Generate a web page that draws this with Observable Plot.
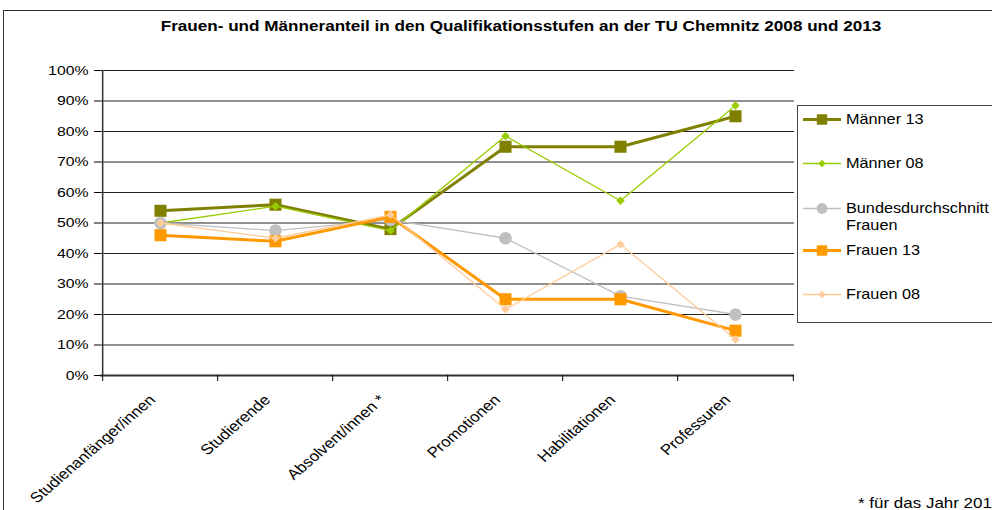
<!DOCTYPE html>
<html><head><meta charset="utf-8">
<script src="https://cdn.jsdelivr.net/npm/d3@7"></script>
<script src="https://cdn.jsdelivr.net/npm/@observablehq/plot@0.6"></script>
<style>
html,body{margin:0;padding:0;overflow:hidden;background:#fff;}
#wrap{position:relative;width:992px;height:510px;overflow:hidden;font-family:"Liberation Sans",Arial,sans-serif;color:#000;}
#frame{position:absolute;left:3px;top:10px;width:1100px;height:600px;border:1px solid #333;box-sizing:border-box;}
#title{position:absolute;left:0;top:18px;width:1042px;text-align:center;font-weight:bold;font-size:14.5px;transform:scaleX(1.18);transform-origin:521px 0;white-space:nowrap;}
#chart{position:absolute;left:0;top:0;}
#legend{position:absolute;left:797px;top:105px;width:300px;height:218px;border:1px solid #444;box-sizing:border-box;background:#fff;}
.item{position:absolute;left:5px;font-size:14.5px;line-height:17px;white-space:nowrap;}
.item svg{position:absolute;left:0;top:0;}
.item span{position:absolute;left:43px;top:0;transform:scaleX(1.12);transform-origin:0 0;}
#note{position:absolute;left:858px;top:495px;font-size:14.5px;white-space:nowrap;transform:scaleX(1.17);transform-origin:0 0;}
</style></head>
<body>
<div id="wrap">
  <div id="frame"></div>
  <div id="chart"></div>
  <div id="title">Frauen- und Männeranteil in den Qualifikationsstufen an der TU Chemnitz 2008 und 2013</div>
  <div id="legend"></div>
  <div id="note">* für das Jahr 2012</div>
</div>
<script>
const categories = ["Studienanfänger/innen","Studierende","Absolvent/innen *","Promotionen","Habilitationen","Professuren"];
const maenner13 = [54, 56, 48, 75, 75, 85];
const maenner08 = [50, 55.5, 47.5, 78.5, 57.3, 88.5];
const bundesFrauen = [50, 47.5, 51, 45, 26, 20];
const frauen13 = [46, 44, 52, 25, 25, 14.7];
const frauen08 = [50, 45, 52.7, 21.7, 43, 11.8];
const yTicks = [0,10,20,30,40,50,60,70,80,90,100];
const seriesNames = ["Männer 13","Männer 08","Bundesdurchschnitt Frauen","Frauen 13","Frauen 08"];

const styles = {
  "Männer 13": {color:"#808000", width:3, symbol:"square", r:6.8},
  "Männer 08": {color:"#99CC00", width:1.3, symbol:"diamond2", r:3.8},
  "Bundesdurchschnitt Frauen": {color:"#C0C0C0", width:1.3, symbol:"circle", r:6.3},
  "Frauen 13": {color:"#FF9900", width:3, symbol:"square", r:6.8},
  "Frauen 08": {color:"#FFCC99", width:1.3, symbol:"diamond2", r:3.8}
};
const seriesValues = [maenner13, maenner08, bundesFrauen, frauen13, frauen08];
const series = seriesNames.map((name,k)=>({name, rows: categories.map((c,i)=>({cat:c, v:seriesValues[k][i], key:name}))}));

const W=992, H=510, ML=100, MR=198, MT=70, MB=135;
const step = (W-ML-MR)/categories.length;

const marks = [
  Plot.ruleY(yTicks.filter(d=>d>0), {stroke:"#222", strokeWidth:1}),
  Plot.ruleX([categories[0]], {dx:-step/2, stroke:"#333", strokeWidth:1.5}),
  Plot.ruleY([0], {stroke:"#333", strokeWidth:2}),
  Plot.axisY({ticks:yTicks, tickSize:6, tickPadding:6, fontSize:13.5, tickFormat:d=>d+"%", label:null}),
  Plot.axisX({tickSize:6, tickFormat:()=>"", dx:-step/2, label:null}),
  Plot.axisX({ticks:[categories[categories.length-1]], tickSize:6, tickFormat:()=>"", dx:step/2, label:null}),
  Plot.axisX({tickSize:0, tickRotate:-45, tickPadding:22, dx:-8, fontSize:14.5, label:null})
];
for (const s of series) {
  const st = styles[s.name];
  marks.push(Plot.line(s.rows, {x:"cat", y:"v", stroke:st.color, strokeWidth:st.width}));
  marks.push(Plot.dot(s.rows, {x:"cat", y:"v", symbol:()=>st.symbol, r:st.r, fill:st.color, stroke:"none"}));
}

const chart = Plot.plot({
  width:W, height:H, marginLeft:ML, marginRight:MR, marginTop:MT, marginBottom:MB,
  style:{fontFamily:"Liberation Sans, Arial, sans-serif", fontSize:"14px", background:"transparent", overflow:"visible", color:"#000"},
  x:{type:"point", domain:categories, padding:0.5, label:null},
  y:{domain:[0,100], label:null},
  symbol:{type:"identity"},
  marks
});
document.getElementById("chart").appendChild(chart);

// horizontally stretch axis labels like the reference's widened text
d3.select(chart).selectAll("g[aria-label='x-axis tick label'] text").each(function(){
  const t = this.getAttribute("transform") || "";
  if (t.includes("rotate(")) this.setAttribute("transform", t.replace("rotate(", "scale(1.16,1) rotate("));
});
d3.select(chart).selectAll("g[aria-label='y-axis tick label'] text").each(function(){
  const t = this.getAttribute("transform") || "";
  this.setAttribute("transform", t + " scale(1.17,1)");
});

// legend
const legend = document.getElementById("legend");
const legendTops = [5, 49, 94, 136, 180];
const labels = ["Männer 13","Männer 08","Bundesdurchschnitt<br>Frauen","Frauen 13","Frauen 08"];
seriesNames.forEach((name,k)=>{
  const st = styles[name];
  const div = document.createElement("div");
  div.className="item";
  div.style.top = legendTops[k]+"px";
  const sym = d3.symbol().type(st.symbol==="square"?d3.symbolSquare:st.symbol==="circle"?d3.symbolCircle:d3.symbolDiamond2).size(Math.PI*st.r*st.r*0.75)();
  div.innerHTML = `<svg width="40" height="17"><line x1="0" x2="38" y1="8.5" y2="8.5" stroke="${st.color}" stroke-width="${st.width}"/><path d="${sym}" transform="translate(19,8.5)" fill="${st.color}"/></svg><span>${labels[k]}</span>`;
  legend.appendChild(div);
});
</script>
</body></html>
